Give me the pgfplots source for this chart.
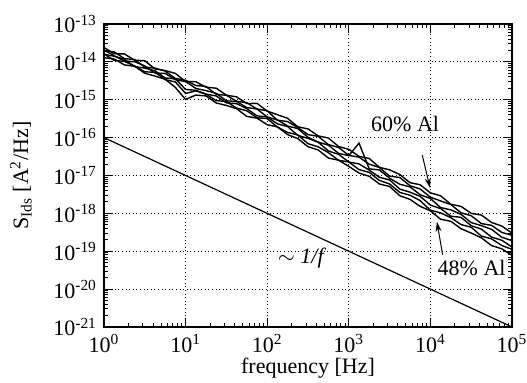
\documentclass[border=0pt]{standalone}
\usepackage{fontspec}
\setmainfont{Liberation Serif}
\usepackage{pgfplots}
\pgfplotsset{compat=1.18}
\usepackage{pgfplotstable}
\usetikzlibrary{arrows.meta}

\pgfplotstableread{
x A B C D E F
1 2.40e-14 1.95e-14 2.04e-14 1.58e-14 1.62e-14 1.29e-14
1.334 1.64e-14 1.83e-14 1.45e-14 1.41e-14 1.09e-14 1.19e-14
1.778 1.62e-14 1.22e-14 1.05e-14 1.17e-14 1.03e-14 8.32e-15
2.371 1.11e-14 1.15e-14 1.01e-14 7.53e-15 7.78e-15 7.67e-15
3.162 1.07e-14 7.28e-15 7.83e-15 6.85e-15 5.47e-15 5.01e-15
4.217 6.53e-15 6.84e-15 5.07e-15 5.82e-15 5.31e-15 4.22e-15
5.623 5.89e-15 5.73e-15 4.97e-15 3.75e-15 3.40e-15 3.47e-15
7.499 4.95e-15 3.64e-15 3.37e-15 3.57e-15 2.94e-15 2.11e-15
10 3.02e-15 3.27e-15 3.01e-15 1.87e-15 1.47e-15 1.02e-15
13.34 2.99e-15 2.38e-15 1.99e-15 1.78e-15 1.71e-15 1.33e-15
17.78 2.14e-15 2.24e-15 1.74e-15 1.41e-15 1.41e-15 1.26e-15
23.71 2.02e-15 1.39e-15 1.48e-15 1.26e-15 9.48e-16 8.22e-16
31.62 1.32e-15 1.31e-15 9.38e-16 8.28e-16 8.99e-16 7.08e-16
42.17 1.19e-15 9.10e-16 8.97e-16 7.89e-16 6.04e-16 5.82e-16
56.23 7.94e-16 8.36e-16 6.22e-16 5.83e-16 5.11e-16 3.63e-16
74.99 8.04e-16 5.69e-16 5.69e-16 3.76e-16 3.35e-16 3.27e-16
100 5.01e-16 5.11e-16 3.52e-16 3.50e-16 3.18e-16 2.19e-16
133.4 4.03e-16 2.89e-16 2.93e-16 2.31e-16 1.90e-16 1.93e-16
177.8 3.24e-16 2.65e-16 2.03e-16 1.96e-16 1.37e-16 1.20e-16
237.1 1.93e-16 1.85e-16 1.73e-16 1.15e-16 1.18e-16 9.44e-17
316.2 1.70e-16 1.20e-16 1.02e-16 9.55e-17 6.92e-17 5.75e-17
421.7 1.11e-16 1.08e-16 7.60e-17 7.57e-17 5.71e-17 4.73e-17
562.3 9.77e-17 6.55e-17 6.34e-17 4.45e-17 4.02e-17 2.88e-17
749.9 5.82e-17 5.48e-17 3.83e-17 3.61e-17 2.52e-17 2.54e-17
1000 4.90e-17 3.40e-17 3.34e-17 2.27e-17 2.28e-17 1.74e-17
1334 3.20e-17 3.05e-17 7.16e-17 2.02e-17 1.43e-17 1.16e-17
1778 2.82e-17 1.99e-17 1.50e-17 1.39e-17 1.21e-17 9.55e-18
2371 1.64e-17 1.63e-17 1.40e-17 8.97e-18 7.40e-18 5.96e-18
3162 1.41e-17 9.64e-18 8.47e-18 7.62e-18 5.97e-18 5.13e-18
4217 1.06e-17 8.85e-18 5.87e-18 4.38e-18 3.57e-18 2.92e-18
5623 6.46e-18 5.37e-18 5.01e-18 3.63e-18 3.02e-18 2.34e-18
7499 5.69e-18 4.40e-18 3.10e-18 2.81e-18 2.17e-18 1.53e-18
10000 3.47e-18 2.67e-18 2.47e-18 1.65e-18 1.21e-18 1.17e-18
13335 2.92e-18 2.13e-18 1.42e-18 1.34e-18 1.03e-18 7.00e-19
17783 1.74e-18 1.71e-18 1.24e-18 8.43e-19 7.73e-19 6.17e-19
23714 1.53e-18 1.04e-18 9.44e-19 7.85e-19 5.07e-19 3.94e-19
31623 1.00e-18 8.67e-19 5.70e-19 4.72e-19 4.29e-19 3.02e-19
42170 9.02e-19 5.38e-19 4.75e-19 3.83e-19 2.51e-19 2.26e-19
56234 5.75e-19 4.83e-19 3.78e-19 2.36e-19 2.12e-19 1.41e-19
74989 4.62e-19 3.14e-19 2.34e-19 1.95e-19 1.42e-19 1.16e-19
100000 3.02e-19 2.63e-19 1.91e-19 1.29e-19 1.12e-19 7.76e-20
}\spec

\begin{document}
\begin{tikzpicture}
\begin{axis}[
  scale only axis, width=204pt, height=151.5pt,
  xmode=log, ymode=log, log basis x=10, log basis y=10,
  xmin=1, xmax=1e5, ymin=1e-21, ymax=1e-13,
  xtickten={0,1,2,3,4,5},
  ytickten={-21,-20,-19,-18,-17,-16,-15,-14,-13},
  log number format basis/.code 2 args={#1\textsuperscript{\pgfmathprintnumber[assume math mode=true]{#2}}},
  extra x ticks={2,3,4,5,6,7,8,9,20,30,40,50,60,70,80,90,200,300,400,500,600,700,800,900,2000,3000,4000,5000,6000,7000,8000,9000,20000,30000,40000,50000,60000,70000,80000,90000},
  extra x tick labels={},
  extra x tick style={grid=none, major tick length=2.2pt},
  extra y ticks={2e-21,3e-21,4e-21,5e-21,6e-21,7e-21,8e-21,9e-21,
    2e-20,3e-20,4e-20,5e-20,6e-20,7e-20,8e-20,9e-20,
    2e-19,3e-19,4e-19,5e-19,6e-19,7e-19,8e-19,9e-19,
    2e-18,3e-18,4e-18,5e-18,6e-18,7e-18,8e-18,9e-18,
    2e-17,3e-17,4e-17,5e-17,6e-17,7e-17,8e-17,9e-17,
    2e-16,3e-16,4e-16,5e-16,6e-16,7e-16,8e-16,9e-16,
    2e-15,3e-15,4e-15,5e-15,6e-15,7e-15,8e-15,9e-15,
    2e-14,3e-14,4e-14,5e-14,6e-14,7e-14,8e-14,9e-14},
  extra y tick labels={},
  extra y tick style={grid=none, major tick length=2.2pt},
  ticklabel style={font=\fontsize{11}{13}\selectfont},
  label style={font=\fontsize{11}{13}\selectfont},
  xlabel={frequency [Hz]},
  xlabel style={yshift=4pt},
  ylabel={S\textsubscript{Ids} [A\textsuperscript{2}/Hz]},
  ylabel style={yshift=4pt},
  tick align=inside, xtick pos=both, ytick pos=both,
  major tick length=4.5pt,
  tick style={black, line width=0.5pt},
  axis line style={line width=0.7pt},
  grid=major,
  major grid style={black, line width=0.4pt, dash pattern=on 0.5pt off 1.3pt},
  clip=true,
]
\foreach \s in {A,B,C,D,E,F}{
  \addplot[black, line width=0.7pt, no markers] table[x=x, y=\s] {\spec};
}
\addplot[black, line width=0.6pt, no markers] coordinates {(1,1e-16) (1e5,1e-21)};
\node[font=\fontsize{11}{12}\selectfont] at (axis cs:4900,2.3e-16) {60\% Al};
\node[font=\fontsize{11}{12}\selectfont] at (axis cs:32000,3.6e-20) {48\% Al};
\node[font=\fontsize{11}{12}\selectfont\itshape] at (axis cs:258,6.7e-20) {$\sim$ 1/f};
\draw[-{Stealth[length=5pt,width=3pt]}, line width=0.5pt] (axis cs:7943,3.5e-17) -- (axis cs:9886,4.7e-18);
\draw[-{Stealth[length=5pt,width=3pt]}, line width=0.5pt] (axis cs:14125,8.1e-20) -- (axis cs:12023,6.0e-19);
\path (rel axis cs:0,0) coordinate (sw) (rel axis cs:1,1) coordinate (ne);
\end{axis}
\pgfresetboundingbox
\path ([shift={(-52pt,-28pt)}]sw) rectangle ([shift={(7.5pt,12pt)}]ne);
\end{tikzpicture}
\end{document}
